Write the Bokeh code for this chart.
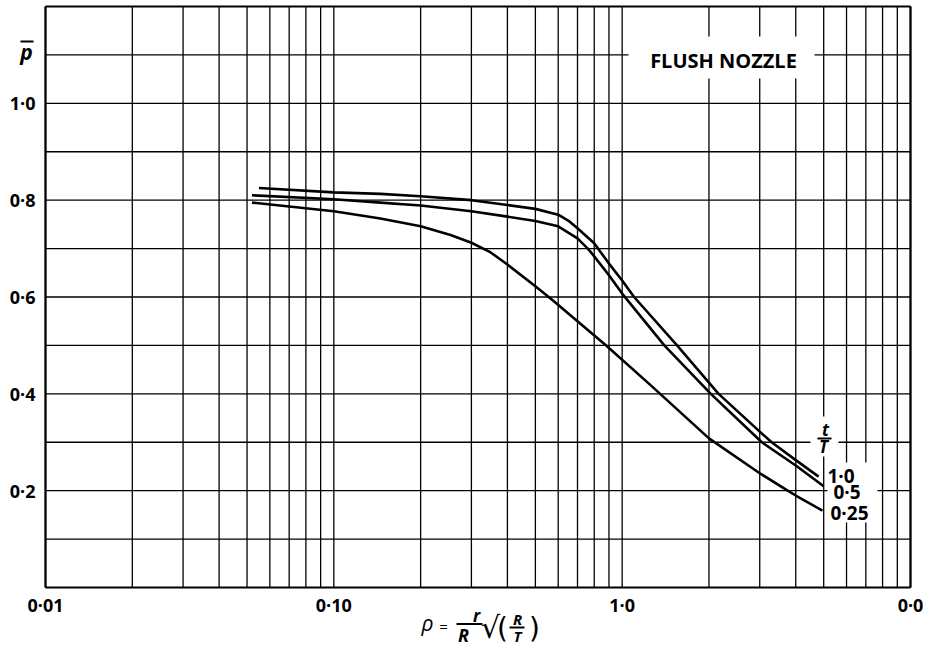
from bokeh.plotting import figure
from bokeh.models import Label, Range1d, BoxAnnotation
from bokeh.core.properties import value
from bokeh.embed import file_html
from bokeh.resources import INLINE

# ---- data ----
x_t10 = [0.055, 0.1, 0.145, 0.2, 0.3, 0.4, 0.5, 0.6, 0.65, 0.7, 0.8, 0.9, 1.0, 1.1, 1.55, 2.16, 3.0, 3.3, 4.0, 4.8]
y_t10 = [0.825, 0.816, 0.813, 0.808, 0.80, 0.79, 0.782, 0.77, 0.758, 0.742, 0.711, 0.669, 0.634, 0.60, 0.50, 0.40, 0.322, 0.30, 0.263, 0.229]

x_t05 = [0.052, 0.1, 0.145, 0.2, 0.3, 0.4, 0.5, 0.6, 0.7, 0.76, 0.8, 0.9, 1.0, 1.40, 2.03, 3.05, 4.0, 5.0]
y_t05 = [0.81, 0.802, 0.795, 0.789, 0.777, 0.766, 0.757, 0.746, 0.721, 0.70, 0.684, 0.645, 0.607, 0.50, 0.40, 0.30, 0.252, 0.209]

x_t025 = [0.052, 0.1, 0.145, 0.2, 0.254, 0.3, 0.35, 0.4, 0.5, 0.57, 0.88, 1.26, 2.0, 3.0, 3.75, 4.0, 4.95]
y_t025 = [0.795, 0.777, 0.762, 0.746, 0.728, 0.712, 0.692, 0.667, 0.622, 0.595, 0.50, 0.417, 0.308, 0.236, 0.20, 0.19, 0.159]

series_labels = ["1·0", "0·5", "0·25"]

x_ticks = [0.01, 0.1, 1.0, 10.0]
x_tick_labels = ["0·01", "0·10", "1·0", "0·0"]
y_ticks = [0.2, 0.4, 0.6, 0.8, 1.0]
y_tick_labels = ["0·2", "0·4", "0·6", "0·8", "1·0"]

x_min, x_max = 0.01, 10.0
y_min, y_max = 0.0, 1.2
grid_x = [k * 10.0 ** e for e in (-2, -1, 0) for k in range(1, 10)] + [10.0]
grid_y = [i / 10 for i in range(1, 12)]

FONT = "Open Sans"

# ---- layout: chart box in canvas pixels ----
W, H = 932, 647
L, R, T, B = 45, 910, 6, 587
dec = (R - L) / 3.0              # pixels per decade
ppu = (B - T) / (y_max - y_min)  # pixels per unit of p-bar

p = figure(width=W, height=H, x_axis_type="log",
           x_range=Range1d(10 ** (-2 - L / dec), 10 ** (-2 + (W - L) / dec)),
           y_range=Range1d(-(H - B) / ppu, y_max + T / ppu),
           x_axis_location=None, y_axis_location=None,
           output_backend="svg", toolbar_location=None, min_border=0)
p.outline_line_color = None
p.background_fill_color = "white"
p.border_fill_color = "white"
p.xgrid.visible = False
p.ygrid.visible = False

def sx(px):
    return 10 ** (-2 + (px - L) / dec)

def sy(py):
    return (B - py) / ppu

# grid lines (from the grid tick arrays, through the figure's scales)
p.segment(x0=grid_x, y0=[y_min] * len(grid_x), x1=grid_x, y1=[y_max] * len(grid_x),
          line_color="black", line_width=1.3)
p.segment(x0=[x_min] * len(grid_y), y0=grid_y, x1=[x_max] * len(grid_y), y1=grid_y,
          line_color="black", line_width=1.3)

# chart box
p.segment(x0=[x_min, x_min, x_min, x_max], y0=[y_min, y_max, y_min, y_min],
          x1=[x_max, x_max, x_min, x_max], y1=[y_min, y_max, y_max, y_max],
          line_color="black", line_width=2.2)

# curves
for xs, ys in ((x_t10, y_t10), (x_t05, y_t05), (x_t025, y_t025)):
    p.line(xs, ys, line_color="black", line_width=2.6, line_join="round")

# tick labels
p.text(x=x_ticks, y=[y_min] * len(x_ticks), text=x_tick_labels, y_offset=17,
       text_align="center", text_baseline="middle",
       text_font=value(FONT), text_font_style="bold", text_font_size="18px", text_color="black")
p.text(x=[x_min] * len(y_ticks), y=y_ticks, text=y_tick_labels, x_offset=-10,
       text_align="right", text_baseline="middle",
       text_font=value(FONT), text_font_style="bold", text_font_size="18px", text_color="black")

def box(x0, x1, y0, y1, color):
    p.add_layout(BoxAnnotation(left=sx(x0), right=sx(x1), top=sy(y0), bottom=sy(y1),
                               fill_color=color, fill_alpha=1, line_color=None))

def lab(px, py, text, size="18px", style="bold", align="center", font=FONT):
    p.add_layout(Label(x=sx(px), y=sy(py), text=text, text_align=align, text_baseline="middle",
                       text_font=font, text_font_style=style, text_font_size=size,
                       text_color="black"))

# white patches behind in-chart texts
box(628, 814, 36, 78, "white")
box(810, 838, 416, 456, "white")
box(827, 877, 462, 522, "white")

# title inside plot
lab(723, 60, "FLUSH NOZZLE", size="20px")

# t/T label
lab(825, 429, "t", size="17px", style="bold italic")
box(817, 831, 437, 439, "black")
lab(823, 446, "T", size="17px", style="bold italic")

# curve end labels
lab(827, 475, series_labels[0], size="19px", align="left")
lab(833, 491, series_labels[1], size="19px", align="left")
lab(830, 512, series_labels[2], size="19px", align="left")

# y-axis label  p-bar
lab(26, 51, "p", size="21px", style="bold italic")
box(20, 33, 40, 42, "black")

# x-axis label  rho = r/R sqrt(R/T)
lab(421, 622, "ρ", size="21px", style="italic", align="left")
lab(443, 625, "=", size="15px", style="normal")
lab(476, 615, "r", size="17px", style="bold italic")
box(456, 482, 622.5, 624.5, "black")
lab(463, 634, "R", size="18px", style="bold italic")
lab(490, 627, "√", size="30px", style="normal", font="DejaVu Sans")
lab(502, 628, "(", size="28px", style="normal", font="DejaVu Sans")
lab(517, 618, "R", size="15px", style="bold italic")
box(509, 524, 626, 628, "black")
lab(517, 635, "T", size="15px", style="bold italic")
lab(534, 628, ")", size="28px", style="normal", font="DejaVu Sans")

open("out.html", "w").write(file_html(p, INLINE))
